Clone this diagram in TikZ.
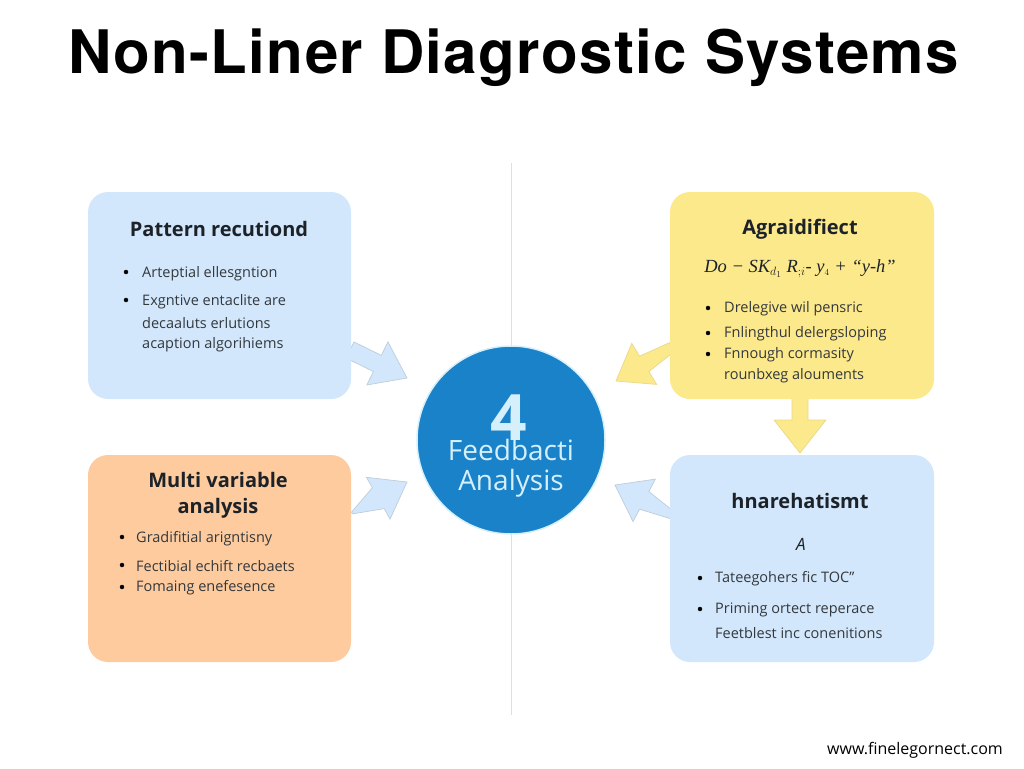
\documentclass[tikz,border=0pt]{standalone}
\usepackage{fontspec}
\setmainfont{Open Sans}
\newfontfamily\titlefont[LetterSpace=2.3]{TeX Gyre Heros}
\newfontfamily\formulafont{Liberation Serif}
\usetikzlibrary{calc}
\definecolor{paleblue}{HTML}{D2E7FB}
\definecolor{paleyellow}{HTML}{FCE98C}
\definecolor{paleorange}{HTML}{FDCB9E}
\definecolor{hubblue}{HTML}{1A82C9}
\definecolor{hubring}{HTML}{D5F0FB}
\definecolor{inkblack}{HTML}{1C2228}
\tikzset{
	panel/.style={rounded corners=20pt,inner sep=0pt},
	heading/.style={font=\fontsize{20}{26}\selectfont\bfseries,text=inkblack,align=center},
	bodytext/.style={anchor=west,inner sep=0pt,font=\fontsize{14.5}{17}\selectfont,text=inkblack!90},
	bluearrow/.style={fill=paleblue,draw=paleblue!75!gray,line width=0.7pt},
	yellowarrow/.style={fill=paleyellow,draw=paleyellow!85!gray,line width=0.7pt}
}
% style, tail, tip, half tail, half neck, half head
\newcommand{\blockarrow}[6]{
	\coordinate (neck) at ($(#3)!33pt!(#2)$);
	\draw [#1] ($(#2)!#4!90:(#3)$) -- ($(neck)!#5!90:(#3)$) -- ($(neck)!#6!90:(#3)$) -- (#3)
		-- ($(neck)!#6!-90:(#3)$) -- ($(neck)!#5!-90:(#3)$) -- ($(#2)!#4!-90:(#3)$) -- cycle;
}
\begin{document}
\begin{tikzpicture}[x=1pt,y=-1pt]
	\useasboundingbox (0,0) rectangle (1024,768);
	\node [anchor=base,inner sep=0pt,font=\titlefont\fontsize{60}{64}\selectfont\bfseries,text=black] (title) at (513.5,73) {Non-Liner Diagrostic Systems};
	\coordinate (splittop) at (511,163);
	\coordinate (splitbottom) at (511,715);
	\draw [line width=1pt,color=gray!25] (splittop)-- (splitbottom);

	\coordinate (patterntail) at (350,350);
	\coordinate (patterntip) at (407,378);
	\coordinate (multitail) at (352,513);
	\coordinate (multitip) at (407,482);
	\coordinate (gradienttail) at (672,347);
	\coordinate (gradienttip) at (616,381);
	\coordinate (matchtail) at (672,515);
	\coordinate (matchtip) at (615,485);
	\coordinate (downtail) at (800,395);
	\coordinate (downtip) at (800,453);
	\blockarrow{bluearrow}{patterntail}{patterntip}{9pt}{9pt}{24pt}
	\blockarrow{bluearrow}{multitail}{multitip}{1pt}{12pt}{24pt}
	\blockarrow{yellowarrow}{gradienttail}{gradienttip}{5pt}{9pt}{24pt}
	\blockarrow{bluearrow}{matchtail}{matchtip}{4pt}{10pt}{24pt}
	\blockarrow{yellowarrow}{downtail}{downtip}{8pt}{8pt}{26pt}

	\fill [panel,fill=paleblue] (88,192) rectangle (351,399);
	\fill [panel,fill=paleorange] (88,455) rectangle (351,662);
	\fill [panel,fill=paleyellow] (670,192) rectangle (934,399);
	\fill [panel,fill=paleblue] (670,455) rectangle (934,662);

	\node [circle,minimum size=188pt,inner sep=0pt,fill=hubblue,draw=hubring,line width=1.5pt] (hub) at (511,440) {};
	\node [inner sep=0pt,font=\fontsize{64}{66}\selectfont\bfseries,text=hubring] (hubnumber) at (509,418) {4};
	\node [inner sep=0pt,font=\fontsize{28}{30}\selectfont,text=hubring] (hubline) at (511,450) {Feedbacti};
	\node [inner sep=0pt,font=\fontsize{28}{30}\selectfont,text=hubring] (hubanalysis) at (511,483) {Analysis};

	\node [heading] (patternhead) at (219,229) {Pattern recutiond};
	\draw [fill=black] (126,272) circle (2pt);
	\node [bodytext] (patternone) at (142,274) {Arteptial ellesgntion};
	\draw [fill=black] (126,300) circle (2pt);
	\node [bodytext] (patterntwo) at (142,302) {Exgntive entaclite are};
	\node [bodytext] (patternthree) at (142,323) {decaaluts erlutions};
	\node [bodytext] (patternfour) at (142,345) {acaption algorihiems};

	\node [heading] (multihead) at (218,495) {Multi variable\\analysis};
	\draw [fill=black] (122,537) circle (2pt);
	\node [bodytext] (multione) at (136,539) {Gradifitial arigntisny};
	\draw [fill=black] (122,565) circle (2pt);
	\node [bodytext] (multitwo) at (136,566) {Fectibial echift recbaets};
	\draw [fill=black] (122,587) circle (2pt);
	\node [bodytext] (multithree) at (136,588) {Fomaing enefesence};

	\node [heading] (gradienthead) at (800,229) {Agraidifiect};
	\node [inner sep=0pt,font=\formulafont\itshape\fontsize{18.5}{20}\selectfont,text=inkblack] (gradientformula) at (800,269) {Do − SK$_{d_1}$ R$_{;i}$- y$_{\scriptscriptstyle 4}$ + “y-h”};
	\draw [fill=black] (708,308) circle (2pt);
	\node [bodytext] (gradientone) at (724,309) {Drelegive wil pensric};
	\draw [fill=black] (708,333) circle (2pt);
	\node [bodytext] (gradienttwo) at (724,334) {Fnlingthul delergsloping};
	\draw [fill=black] (708,354) circle (2pt);
	\node [bodytext] (gradientthree) at (724,355) {Fnnough cormasity};
	\node [bodytext] (gradientfour) at (724,376) {rounbxeg alouments};

	\node [heading] (matchhead) at (800,501) {hnarehatismt};
	\node [inner sep=0pt,font=\itshape\fontsize{17}{19}\selectfont,text=inkblack] (matchletter) at (801,544) {A};
	\draw [fill=black] (700,578) circle (2pt);
	\node [bodytext] (matchone) at (715,579) {Tateegohers ﬁc TOC”};
	\draw [fill=black] (700,609) circle (2pt);
	\node [bodytext] (matchtwo) at (715,610) {Priming ortect reperace};
	\node [bodytext] (matchthree) at (715,633) {Feetblest inc conenitions};

	\node [anchor=east,inner sep=0pt,font=\fontsize{16}{18}\selectfont,text=black] (footer) at (1003,750) {www.finelegornect.com};
\end{tikzpicture}
\end{document}
